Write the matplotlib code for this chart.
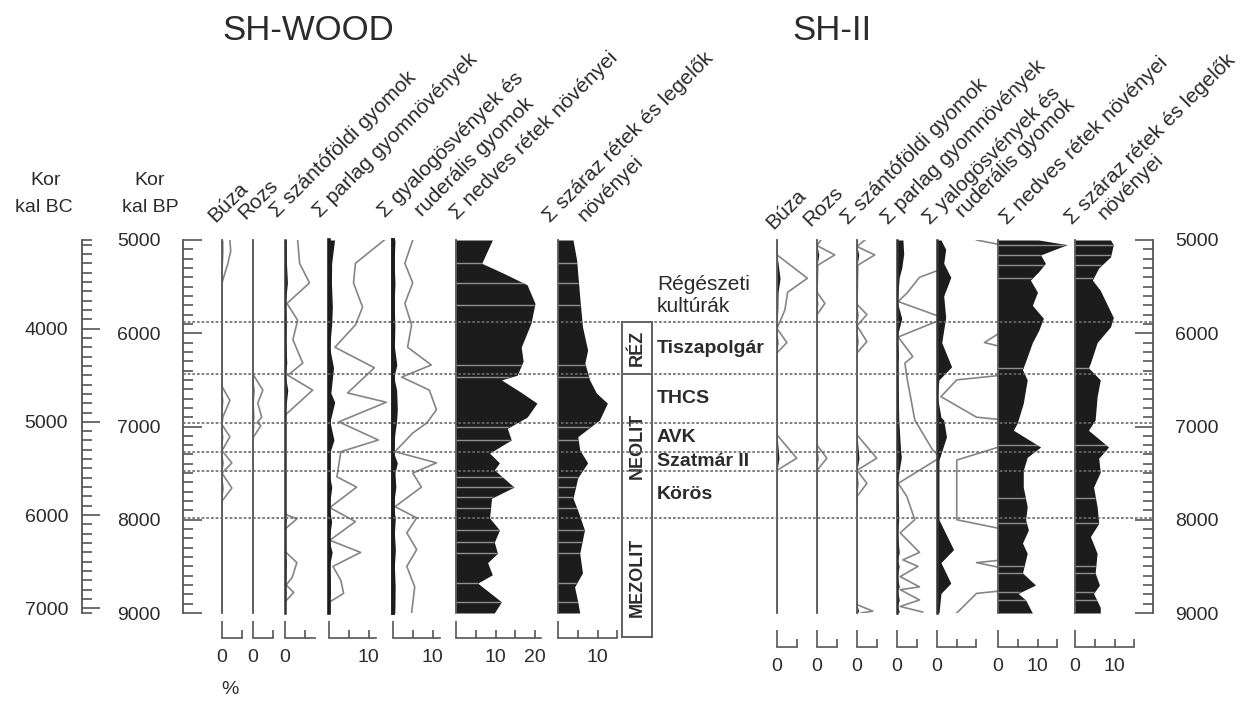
import matplotlib
matplotlib.use("Agg")
import matplotlib.pyplot as plt
import numpy as np

plt.rcParams["font.family"] = ["Liberation Sans", "DejaVu Sans"]

# ---- layout constants (pixels of the 1243x701 target) ----
W, H = 1243, 701
TOP_PX, BOT_PX = 240, 613          # rows of 5000 and 9000 cal BP
AGE_TOP, AGE_BOT = 5000, 9000
PX_PER_PCT = 3.95
EXAG = 10                           # grey curve = 10x exaggeration
BC_OFFSET = 1950

FILL = "#1c1c1c"
GREY = "#858585"
AXIS = "#555555"
TXT = "#2b2b2b"

# ---- zones / cultures ----
ZONE_AGES = [5880, 6440, 6960, 7270, 7480, 7980]
CULTURES = ["Tiszapolgár", "THCS", "AVK", "Szatmár II", "Körös"]
PERIODS = ["RÉZ", "NEOLIT", "MEZOLIT"]

# ---- SH-WOOD (age cal BP, %) ----
wood_buza = [(5000, 0.20), (5120, 0.22), (5250, 0.15), (5430, 0.02), (5470, 0), (6570, 0),
             (6720, 0.20), (6900, 0.02), (6980, 0), (7110, 0.20), (7260, 0), (7390, 0.25),
             (7500, 0), (7660, 0.25), (7800, 0), (9000, 0)]
wood_rozs = [(5000, 0), (6440, 0), (6610, 0.25), (6750, 0.12), (6900, 0.22), (6960, 0.10),
             (6990, 0.20), (7120, 0), (9000, 0)]
wood_szanto = [(5000, 0.32), (5250, 0.37), (5460, 0.62), (5680, 0.05), (5860, 0.32), (6070, 0.20),
               (6320, 0.45), (6450, 0.07), (6610, 0.70), (6860, 0.05), (6880, 0), (7940, 0),
               (7990, 0.30), (8100, 0), (8340, 0), (8460, 0.30), (8620, 0.18), (8700, 0.03),
               (8780, 0.22), (8880, 0), (9000, 0)]
wood_parlag = [(5000, 1.40), (5250, 0.67), (5460, 0.62), (5720, 0.85), (5910, 0.67), (6150, 0.15),
               (6370, 1.15), (6640, 0.47), (6740, 1.45), (6950, 0.25), (7145, 1.25), (7270, 0.30),
               (7540, 0.20), (7650, 0.70), (7870, 0.02), (8020, 0.67), (8220, 0.02), (8350, 0.80),
               (8500, 0.10), (8650, 0.30), (8790, 0.37), (8880, 0.02), (9000, 0.02)]
wood_gyalog = [(5000, 0.50), (5250, 0.30), (5460, 0.50), (5680, 0.30), (5910, 0.47), (6150, 0.37),
               (6340, 0.97), (6470, 0.22), (6610, 0.92), (6820, 1.10), (6960, 0.86), (7070, 0.50),
               (7270, 0.05), (7390, 1.10), (7500, 0.50), (7650, 0.72), (7860, 0.05), (7980, 0.60),
               (8140, 0.35), (8320, 0.60), (8500, 0.35), (8720, 0.55), (9000, 0.47)]
wood_nedves = [(5000, 9.2), (5250, 6.5), (5350, 11.7), (5480, 18), (5680, 20), (5890, 19),
               (6150, 16.5), (6300, 17), (6450, 15.5), (6500, 11.5), (6640, 16.7), (6750, 20.5),
               (6900, 18), (7020, 13), (7145, 14), (7285, 8.5), (7390, 11), (7465, 9.7),
               (7650, 14.7), (7770, 9), (7980, 8.5), (8110, 11), (8240, 9.7), (8360, 10.5),
               (8460, 8), (8590, 9.2), (8680, 5.5), (8880, 11.5), (9000, 9.7)]
wood_szaraz = [(5000, 3.8), (5210, 4.7), (5610, 5.5), (5930, 6.2), (6180, 7.5), (6320, 6.8),
               (6500, 8), (6640, 9.7), (6750, 12.5), (6930, 10.5), (7110, 5), (7250, 5.5),
               (7390, 7.5), (7550, 5), (7770, 3.8), (7900, 5), (8110, 6.7), (8360, 5.5),
               (8570, 6.2), (8720, 4.2), (8880, 5), (9000, 5.5)]
wood_samples = [5250, 5460, 5700, 6340, 6470, 7005, 7145, 7540, 7650, 7755, 7870,
                8110, 8240, 8360, 8680, 8880]

# ---- SH-II ----
sh2_buza = [(5000, 0), (5160, 0), (5410, 0.77), (5560, 0.27), (5750, 0.20), (5880, 0.07),
            (5950, 0), (6100, 0.25), (6210, 0), (7090, 0), (7340, 0.50), (7470, 0), (9000, 0)]
sh2_rozs = [(5000, 0.10), (5060, 0), (5160, 0.45), (5270, 0.02), (5560, 0), (5680, 0.20),
            (5800, 0), (7200, 0), (7340, 0.25), (7470, 0), (9000, 0)]
sh2_szanto = [(5000, 0.20), (5070, 0), (5160, 0.45), (5270, 0.02), (5690, 0), (5800, 0.25),
              (5920, 0), (6090, 0.25), (6210, 0), (7090, 0), (7340, 0.50), (7470, 0),
              (7610, 0.25), (7750, 0), (8910, 0), (8980, 0.40), (9000, 0.10)]
sh2_parlag = [(5000, 1.5), (5150, 1.7), (5300, 1.2), (5400, 0.57), (5570, 0.25), (5660, 0.03),
              (5840, 1.2), (6040, 0.03), (6250, 0.40), (6320, 0.20), (6470, 0.25), (6930, 0.45),
              (7250, 0.90), (7330, 1.1), (7610, 0.03), (7750, 0.25), (8000, 0.45), (8140, 0.08),
              (8350, 0.57), (8430, 0.15), (8500, 0.53), (8610, 0.08), (8720, 0.57), (8750, 0.08),
              (8860, 0.57), (8930, 0.08), (8990, 0.65)]
sh2_yalog = [(5000, 1.0), (5100, 2.2), (5250, 1.7), (5400, 3.5), (5600, 1.7), (5830, 2.2),
             (6100, 1.2), (6360, 3.7), (6500, 0.5), (6680, 0.1), (6900, 1.0), (6930, 1.7),
             (7110, 2.4), (7360, 0.5), (8000, 0.5), (8320, 4.2), (8460, 1.0), (8680, 3.5),
             (8790, 1.0), (9000, 0.5)]
sh2_nedves = [(5000, 10.3), (5050, 17.5), (5160, 10.8), (5250, 12), (5340, 10.3), (5430, 8.2),
              (5560, 10), (5700, 8.7), (5840, 11.5), (5970, 10.3), (6100, 8.7), (6300, 7),
              (6390, 6.2), (6500, 7.4), (6750, 6.4), (6960, 4.9), (7040, 3.9), (7220, 10.8),
              (7330, 7.4), (7470, 6.4), (7650, 6.4), (7860, 7.4), (8000, 7), (8110, 7.7),
              (8250, 6.2), (8360, 7.4), (8570, 6.2), (8700, 9.5), (8790, 5.1), (8860, 7),
              (9000, 8.7)]
sh2_szaraz = [(5000, 9), (5050, 9.7), (5180, 9), (5300, 6), (5430, 4.4), (5540, 6.4), (5830, 9.7),
              (5930, 9), (6100, 5.6), (6320, 3.9), (6370, 3.4), (6500, 6.4), (6680, 5.6),
              (6930, 5.1), (7040, 3.4), (7220, 8.5), (7340, 6), (7490, 6.4), (7650, 4.7),
              (7860, 5.6), (8040, 6), (8180, 3.9), (8360, 5.6), (8570, 5.1), (8700, 6.2),
              (8790, 4.7), (8940, 6.4), (9000, 6.4)]
sh2_samples = [5050, 5160, 5270, 5410, 6370, 7200, 7770, 8030, 8500, 8570, 8780, 8860]


def px_rect(x0, x1, y0, y1):
    return [x0 / W, 1 - y1 / H, (x1 - x0) / W, (y1 - y0) / H]


def px_to_age(y):
    return AGE_TOP + (y - TOP_PX) * (AGE_BOT - AGE_TOP) / (BOT_PX - TOP_PX)


def age_to_px(age):
    return TOP_PX + (age - AGE_TOP) * (BOT_PX - TOP_PX) / (AGE_BOT - AGE_TOP)


def ftext(x, y, s, **kw):
    kw.setdefault("color", TXT)
    return fig.text(x / W, 1 - y / H, s, **kw)


fig = plt.figure(figsize=(W / 100, H / 100), dpi=100)
fig.patch.set_facecolor("white")


def column(x0, x1, data, exaggerate, minor, bound, labels, drop_px, samples=None,
           base_lw=1.3, base_color=AXIS):
    ax = fig.add_axes(px_rect(x0, x1, TOP_PX, BOT_PX))
    ax.set_facecolor("none")
    ax.set_xlim(0, (x1 - x0) / PX_PER_PCT)
    ax.set_ylim(AGE_BOT, AGE_TOP)
    ages = np.array([a for a, _ in data], float)
    vals = np.array([v for _, v in data], float)
    poly = ax.fill_betweenx(ages, 0, vals, color=FILL, lw=0, zorder=2)
    if exaggerate:
        ax.plot(vals * EXAG, ages, color=GREY, lw=1.2, zorder=1)
    if samples:
        lc = ax.hlines(samples, 0, ax.get_xlim()[1], color="#8f8f8f", lw=1.0, zorder=3)
        lc.set_clip_path(poly.get_paths()[0], ax.transData)
    for s in ("top", "right"):
        ax.spines[s].set_visible(False)
    ax.spines["left"].set_color(base_color)
    ax.spines["left"].set_linewidth(base_lw)
    ax.spines["bottom"].set_position(("outward", drop_px * 0.72))
    ax.spines["bottom"].set_bounds(0, bound)
    ax.spines["bottom"].set_color(AXIS)
    ax.spines["bottom"].set_linewidth(1.2)
    ax.set_yticks([])
    ax.set_xticks([0])
    ax.set_xticklabels([labels.get(0, "")])
    ax.set_xticks(minor, minor=True)
    ax.set_xticklabels([labels.get(m, "") for m in minor], minor=True)
    ax.tick_params(axis="x", which="major", direction="in", length=12, width=1.2,
                   color=AXIS, pad=8, labelsize=14, labelcolor=TXT)
    ax.tick_params(axis="x", which="minor", direction="in", length=6, width=1.2,
                   color=AXIS, pad=8, labelsize=14, labelcolor=TXT)
    return ax


# SH-WOOD columns
column(222, 253, wood_buza, True, [5], 5, {0: "0"}, 25)
column(253, 285, wood_rozs, True, [5], 5, {0: "0"}, 25)
column(285, 329, wood_szanto, True, [5], 7.5, {0: "0"}, 25, base_lw=1.8, base_color="#333333")
column(329, 393, wood_parlag, True, [5, 10], 12, {10: "10"}, 25, base_lw=2.6, base_color=FILL)
column(393, 456, wood_gyalog, True, [5, 10], 12, {10: "10"}, 25, base_lw=2.8, base_color=FILL)
column(456, 558, wood_nedves, False, [5, 10, 15, 20], 21.5, {10: "10", 20: "20"}, 25, wood_samples)
column(558, 621, wood_szaraz, False, [5, 10, 15], 15, {10: "10"}, 25, wood_samples)

# SH-II columns
column(777, 817, sh2_buza, True, [5], 5, {0: "0"}, 34)
column(817, 857, sh2_rozs, True, [5], 5, {0: "0"}, 34)
column(857, 897, sh2_szanto, True, [5], 5, {0: "0"}, 34)
column(897, 937, sh2_parlag, True, [5], 5, {0: "0"}, 34, base_lw=1.8, base_color="#333333")
column(937, 998, sh2_yalog, True, [5, 10], 10, {0: "0"}, 34, base_lw=1.8, base_color="#333333")
column(998, 1075, sh2_nedves, False, [5, 10, 15], 15, {0: "0", 10: "10"}, 34, sh2_samples)
column(1075, 1153, sh2_szaraz, False, [5, 10, 15], 15, {0: "0", 10: "10"}, 34, sh2_samples)


def age_axis(x, ylim, majors, minors, side, pad, major_len, minor_len):
    ax = fig.add_axes(px_rect(x, x + 1, TOP_PX, BOT_PX))
    ax.set_facecolor("none")
    ax.set_ylim(*ylim)
    ax.set_xticks([])
    for s in ("top", "bottom", "left", "right"):
        ax.spines[s].set_visible(s == side)
    ax.spines[side].set_color(AXIS)
    ax.spines[side].set_linewidth(1.3)
    if side == "right":
        ax.yaxis.tick_right()
    ax.set_yticks(majors)
    ax.set_yticks(minors, minor=True)
    ax.tick_params(axis="y", which="major", direction="in", length=major_len, width=1.2,
                   color=AXIS, pad=pad, labelsize=14, labelcolor=TXT)
    ax.tick_params(axis="y", which="minor", direction="in", length=minor_len, width=1.2,
                   color=AXIS)
    return ax


bp_majors = [5000, 6000, 7000, 8000, 9000]
bc_majors = [4000, 5000, 6000, 7000]
age_axis(82, (AGE_BOT - BC_OFFSET, AGE_TOP - BC_OFFSET), bc_majors,
         list(np.arange(3100, 7050, 100)) + [AGE_TOP - BC_OFFSET, AGE_BOT - BC_OFFSET],
         "left", 10, 13, 7)
age_axis(183, (AGE_BOT, AGE_TOP), bp_majors, np.arange(5100, 9000, 100), "left", 16, 14, 7)
age_axis(1152, (AGE_BOT, AGE_TOP), bp_majors, np.arange(5100, 9000, 100), "right", 16, 13, 7)

# period box
box_bottom_px = 637
box = fig.add_axes(px_rect(622, 652, age_to_px(ZONE_AGES[0]), box_bottom_px))
box.set_facecolor("none")
box.set_xlim(0, 1)
box_end = px_to_age(box_bottom_px)
box.set_ylim(box_end, ZONE_AGES[0])
box.set_xticks([])
box.set_yticks([])
for s in box.spines.values():
    s.set_color(AXIS)
    s.set_linewidth(1.3)
box.axhline(ZONE_AGES[1], color=AXIS, lw=1.3)
period_bounds = [(ZONE_AGES[0], ZONE_AGES[1]), (ZONE_AGES[1], ZONE_AGES[5]), (ZONE_AGES[5], box_end)]
for name, (a0, a1) in zip(PERIODS, period_bounds):
    box.text(0.5, (a0 + a1) / 2, name, rotation=90, ha="center", va="center",
             fontsize=13, fontweight="bold", color=TXT)

# culture labels
bounds = list(zip(ZONE_AGES[:-1], ZONE_AGES[1:]))
for name, (a0, a1) in zip(CULTURES, bounds):
    ftext(657, age_to_px((a0 + a1) / 2), name, ha="left", va="center",
          fontsize=14, fontweight="bold")
ftext(657, 290, "Régészeti", ha="left", va="baseline", fontsize=15)
ftext(657, 312, "kultúrák", ha="left", va="baseline", fontsize=15)

# zone lines on top of everything
ov = fig.add_axes(px_rect(183, 1153, TOP_PX, BOT_PX), zorder=5)
ov.set_facecolor("none")
ov.set_xlim(0, 1)
ov.set_ylim(AGE_BOT, AGE_TOP)
ov.axis("off")
ov.hlines(ZONE_AGES, 0, 1, color="#6a6a6a", lw=1.2, linestyles=(0, (1.6, 1.2)))

# titles, axis headers
ftext(222, 40, "SH-WOOD", fontsize=25, ha="left", va="baseline")
ftext(792, 40, "SH-II", fontsize=25, ha="left", va="baseline")
ftext(46, 185, "Kor", fontsize=14, ha="center", va="baseline")
ftext(44, 212, "kal BC", fontsize=14, ha="center", va="baseline")
ftext(150, 185, "Kor", fontsize=14, ha="center", va="baseline")
ftext(150, 212, "kal BP", fontsize=14, ha="center", va="baseline")
ftext(230, 690, "%", fontsize=14, ha="center", va="center")

# rotated column headers
wood_heads = [(215, 223, "Búza"), (245, 220, "Rozs"), (277, 218, "Σ szántóföldi gyomok"),
              (320, 218, "Σ parlag gyomnövények"), (385, 218, "Σ gyalogösvények és"),
              (422, 217, "ruderális gyomok"), (457, 220, "Σ nedves rétek növényei"),
              (550, 223, "Σ száraz rétek és legelők"), (585, 222, "növényei")]
sh2_heads = [(773, 230, "Búza"), (810, 227, "Rozs"), (848, 225, "Σ szántóföldi gyomok"),
             (888, 225, "Σ parlag gyomnövények"), (930, 225, "Σ yalogösvények és"),
             (963, 218, "ruderális gyomok"), (1007, 225, "Σ nedves rétek növényei"),
             (1072, 225, "Σ száraz rétek és legelők"), (1105, 220, "növényei")]
for x, y, s in wood_heads + sh2_heads:
    ftext(x, y, s, rotation=45, rotation_mode="anchor", ha="left", va="baseline", fontsize=15)

fig.savefig("out.png", dpi=100, facecolor="white")
